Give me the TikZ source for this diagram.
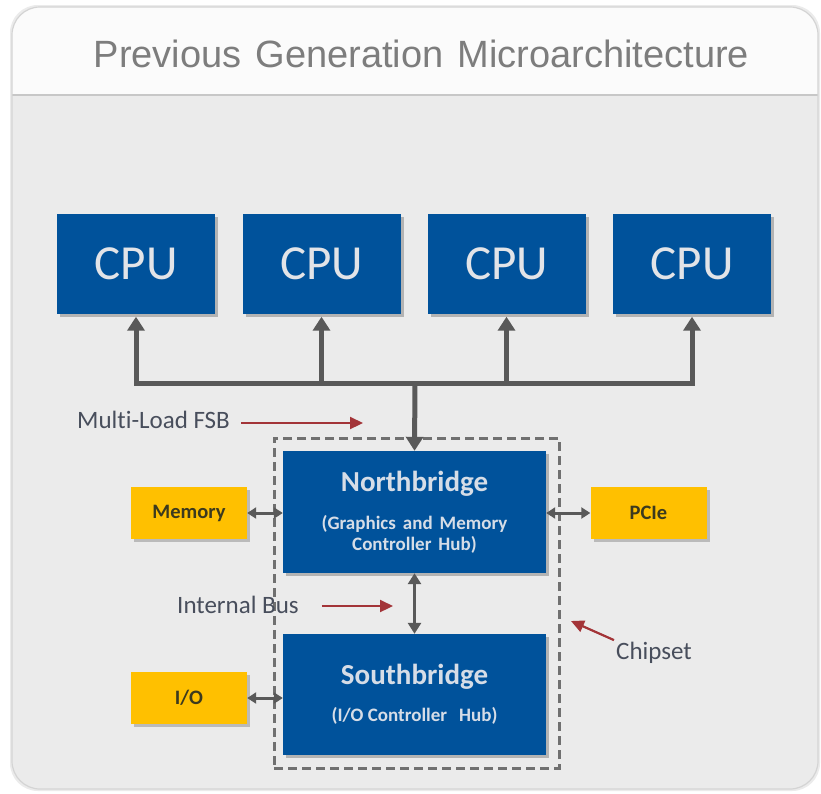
\documentclass[tikz,border=0pt]{standalone}
\usepackage{fontspec}
\setmainfont{Carlito}[Ligatures=NoCommon]
\newfontfamily\titlefont{Liberation Sans}
\usetikzlibrary{arrows.meta,shadows}

\definecolor{chipblue}{RGB}{0,82,155}
\definecolor{gold}{RGB}{255,192,0}
\definecolor{wire}{RGB}{89,89,89}
\definecolor{pointer}{RGB}{163,52,56}
\definecolor{labeltext}{RGB}{72,78,92}
\definecolor{panelbg}{RGB}{235,235,235}
\definecolor{headbg}{RGB}{251,251,251}
\definecolor{panelborder}{RGB}{212,212,212}
\definecolor{titlegray}{RGB}{125,125,125}
\definecolor{cputext}{RGB}{226,228,232}
\definecolor{hubtext}{RGB}{214,221,231}
\definecolor{boxtext}{RGB}{60,58,30}
\definecolor{dashgray}{RGB}{112,112,112}

\tikzset{
  blk/.style={fill=chipblue, inner sep=0pt,
    drop shadow={shadow xshift=3pt, shadow yshift=-3pt, opacity=0.35, fill=black!70}},
  cpubox/.style={blk, minimum width=158pt, minimum height=100pt,
    font=\fontsize{49}{50}\selectfont, text=cputext},
  hubbox/.style={blk, minimum width=263pt, minimum height=122pt, align=center,
    font=\bfseries\fontsize{19}{21}\selectfont, text=hubtext},
  portbox/.style={fill=gold, inner sep=0pt, minimum width=116pt, minimum height=52pt,
    font=\bfseries\fontsize{20.5}{22}\selectfont, text=boxtext,
    drop shadow={shadow xshift=3pt, shadow yshift=-3pt, opacity=0.3, fill=black!70}},
  chipsetbox/.style={draw=dashgray, line width=3pt, dash pattern=on 9pt off 5pt,
    minimum width=285pt, minimum height=330pt, inner sep=0pt},
  busline/.style={draw=wire, line width=5pt, line join=miter},
  bigtip/.style={-{Triangle[width=17pt,length=14pt]}},
  dbl/.style={draw=wire, line width=3pt,
    {Triangle[width=11pt,length=9pt]}-{Triangle[width=11pt,length=9pt]}},
  ibus/.style={draw=wire, line width=3pt,
    {Triangle[width=13pt,length=11pt]}-{Triangle[width=13pt,length=11pt]}},
  ptr/.style={draw=pointer, line width=2.2pt, -{Triangle[width=12pt,length=13pt]}},
  lbl/.style={inner sep=0pt, anchor=west, text=labeltext, font=\fontsize{25}{27}\selectfont},
}

\begin{document}
\begin{tikzpicture}[x=1pt,y=-1pt]
\useasboundingbox (0,0) rectangle (821,793);
\fill[white] (0,0) rectangle (821,793);

% panel with header strip
\fill[black!8, rounded corners=28pt] (10,5) rectangle (820,791);
\fill[panelbg, rounded corners=28pt] (12,7) rectangle (818,789);
\begin{scope}
  \clip[rounded corners=28pt] (12,7) rectangle (818,789);
  \fill[headbg] (12,7) rectangle (818,95);
  \draw[black!22, line width=2pt] (12,95) -- (818,95);
\end{scope}
\draw[panelborder, line width=1.2pt, rounded corners=28pt] (12,7) rectangle (818,789);

\node[font=\titlefont\fontsize{38}{40}\selectfont, text=titlegray, inner sep=0pt] (title)
  at (421.5,54) {Previous\hspace{14pt}Generation\hspace{14pt}Microarchitecture};

% processors
\node[cpubox] (cpu1) at (136,263.5) {CPU};
\node[cpubox] (cpu2) at (321.5,263.5) {CPU};
\node[cpubox] (cpu3) at (506.5,263.5) {CPU};
\node[cpubox] (cpu4) at (692,263.5) {CPU};

% chipset
\node[chipsetbox] (chipset) at (416.5,603) {};
\node[hubbox] (nb) at (414.5,512)
  {{\fontsize{29}{29}\selectfont Northbridge}\\[17pt]
   (Graphics\hspace{7pt}and\hspace{7pt}Memory\\Controller\hspace{7pt}Hub)};
\node[hubbox, minimum height=121pt] (sb) at (414.5,694.5)
  {{\fontsize{29}{29}\selectfont Southbridge}\\[16pt]
   (I/O Controller\hspace{12pt}Hub)};

% peripherals
\node[portbox] (mem) at (189,513) {Memory};
\node[portbox] (pcie) at (648.5,513) {PCIe};
\node[portbox] (io) at (189,698) {I/O};

% front side bus
\coordinate (busmid) at (415,383);
\draw[busline, {Triangle[width=17pt,length=14pt]}-{Triangle[width=17pt,length=14pt]},
  shorten <=3pt, shorten >=3pt]
  (cpu1.south) -- (cpu1.south |- busmid) -- (cpu4.south |- busmid) -- (cpu4.south);
\draw[busline, bigtip, shorten >=3pt] (cpu2.south |- busmid) -- (cpu2.south);
\draw[busline, bigtip, shorten >=3pt] (cpu3.south |- busmid) -- (cpu3.south);
\draw[busline, bigtip] (busmid) -- (nb.north);

% links
\draw[dbl] (mem.east) -- (mem.east -| nb.west);
\draw[dbl] (pcie.west -| nb.east) -- (pcie.west);
\draw[dbl] (io.east) -- (io.east -| sb.west);
\draw[ibus] (nb.south) -- (sb.north);

% annotations
\node[lbl] (fsblbl) at (77,420) {Multi-Load FSB};
\coordinate (fsbtip) at (363,423);
\draw[ptr] ([shift={(11,3)}]fsblbl.east) -- (fsbtip);

\node[lbl] (iblbl) at (177,605) {Internal Bus};
\coordinate (ibtip) at (393,606);
\draw[ptr] ([shift={(23,1)}]iblbl.east) -- (ibtip);

\node[lbl] (chiplbl) at (616,653) {Chipset};
\coordinate (chiptip) at (571,621);
\draw[ptr] ([shift={(-2,-2)}]chiplbl.north west) -- (chiptip);
\end{tikzpicture}
\end{document}
